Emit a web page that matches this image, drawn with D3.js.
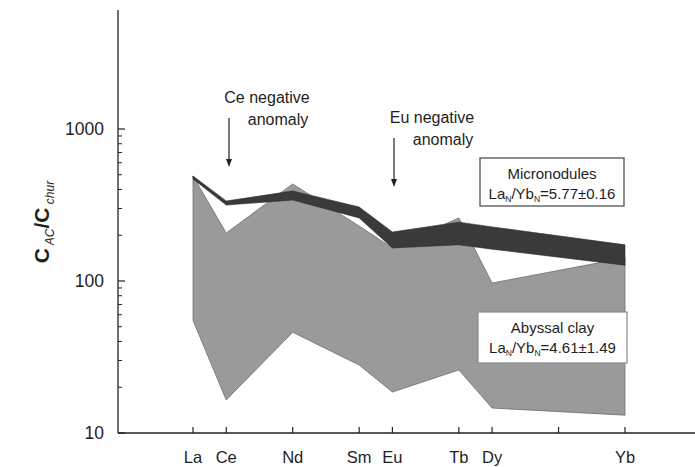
<!DOCTYPE html>
<html><head><meta charset="utf-8">
<script src="https://cdn.jsdelivr.net/npm/d3@7"></script>
<style>
html,body{margin:0;padding:0;background:#fff;}
text{font-family:"Liberation Sans",Arial,sans-serif;fill:#1e1e1e;}
</style></head>
<body><svg id="c" width="695" height="467"></svg>
<script>
// ---- data ----
const elements = ["La","Ce","Nd","Sm","Eu","Tb","Dy","Yb"];
const atomicNumber = [57,58,60,62,63,65,66,70];
const clayUpper = [491,207,435,230,165,260,97,142];
const clayLower = [55,16.5,46,28,18.6,26,14.6,13.1];
const noduleUpper = [491,336,391,307,210,244,227,173];
const noduleLower = [469,316,341,260,165,173,162,127];
const xTickAtomic = [57,58,60,62,63,65,66,68,70];
const xTickLabels = ["La","Ce","Nd","Sm","Eu","Tb","Dy","","Yb"];
const yTickValues = [10,100,1000];
const yTickLabels = ["10","100","1000"];

const svg = d3.select("#c");
const x = d3.scaleLinear().domain([57,70]).range([193,625]);
const y = d3.scaleLog().domain([10,6068]).range([433,10]);

const clay = elements.map((e,i)=>({n:atomicNumber[i],lo:clayLower[i],hi:clayUpper[i]}));
const nod = elements.map((e,i)=>({n:atomicNumber[i],lo:noduleLower[i],hi:noduleUpper[i]}));
const area = d3.area().x(d=>x(d.n)).y0(d=>y(d.lo)).y1(d=>y(d.hi));

svg.append("path").attr("d",area(clay)).attr("fill","#9a9a9a").attr("stroke","#6f6f6f").attr("stroke-width",0.8);
svg.append("path").attr("d",area(nod)).attr("fill","#3a3a3a").attr("stroke","#2a2a2a").attr("stroke-width",0.6);

// y axis
const ax = 118;
svg.append("line").attr("x1",ax).attr("x2",ax).attr("y1",10).attr("y2",433).attr("stroke","#222").attr("stroke-width",1.3);
const minor = [];
[10,100].forEach(b=>{for(let k=2;k<=9;k++) minor.push(b*k);});
svg.selectAll(".mn").data(minor).enter().append("line")
  .attr("x1",ax).attr("x2",ax+4).attr("y1",d=>y(d)).attr("y2",d=>y(d)).attr("stroke","#222").attr("stroke-width",1);
svg.selectAll(".mj").data(yTickValues).enter().append("line")
  .attr("x1",ax).attr("x2",ax+7).attr("y1",d=>y(d)).attr("y2",d=>y(d)).attr("stroke","#222").attr("stroke-width",1.2);
svg.selectAll(".yl").data(yTickValues).enter().append("text")
  .attr("x",104).attr("y",d=>y(d)+6).attr("text-anchor","end").attr("font-size",17.5)
  .text((d,i)=>yTickLabels[i]);

// x axis
svg.append("line").attr("x1",ax).attr("x2",695).attr("y1",433).attr("y2",433).attr("stroke","#222").attr("stroke-width",1.3);
svg.selectAll(".xt").data(xTickAtomic).enter().append("line")
  .attr("x1",d=>x(d)).attr("x2",d=>x(d)).attr("y1",433).attr("y2",427).attr("stroke","#222").attr("stroke-width",1.2);
svg.selectAll(".xl").data(xTickAtomic).enter().append("text")
  .attr("x",d=>x(d)).attr("y",463).attr("text-anchor","middle").attr("font-size",16.5)
  .text((d,i)=>xTickLabels[i]);

// y title
const yt = svg.append("text").attr("transform","translate(49,222) rotate(-90)").attr("text-anchor","middle").attr("font-size",21).attr("font-weight","bold");
yt.append("tspan").text("C");
yt.append("tspan").attr("font-size",12).attr("font-weight","normal").attr("font-style","italic").attr("dy",5).text(" AC");
yt.append("tspan").attr("dy",-5).text("/C");
yt.append("tspan").attr("font-size",12).attr("font-weight","normal").attr("font-style","italic").attr("dy",5).text(" chur");

// annotations
function arrow(x0,y0,y1){
  svg.append("line").attr("x1",x0).attr("x2",x0).attr("y1",y0).attr("y2",y1-6).attr("stroke","#222").attr("stroke-width",1.2);
  svg.append("path").attr("d",`M${x0-3},${y1-8}L${x0+3},${y1-8}L${x0},${y1}Z`).attr("fill","#222");
}
svg.append("text").attr("x",267).attr("y",103).attr("text-anchor","middle").attr("font-size",16).text("Ce negative");
svg.append("text").attr("x",278).attr("y",125).attr("text-anchor","middle").attr("font-size",16).text("anomaly");
arrow(229,118,167);
svg.append("text").attr("x",432).attr("y",123).attr("text-anchor","middle").attr("font-size",16).text("Eu negative");
svg.append("text").attr("x",443).attr("y",145).attr("text-anchor","middle").attr("font-size",16).text("anomaly");
arrow(394,138,187);

// legend boxes
function box(x0,y0,w,h,stroke,l1,val){
  svg.append("rect").attr("x",x0).attr("y",y0).attr("width",w).attr("height",h).attr("fill","#fff").attr("stroke",stroke).attr("stroke-width",1.2);
  const cx = x0+w/2;
  svg.append("text").attr("x",cx).attr("y",y0+21).attr("text-anchor","middle").attr("font-size",15).text(l1);
  const t = svg.append("text").attr("x",cx).attr("y",y0+41).attr("text-anchor","middle").attr("font-size",15);
  t.append("tspan").text("La");
  t.append("tspan").attr("font-size",8.5).attr("dy",3).text("N");
  t.append("tspan").attr("dy",-3).text("/Yb");
  t.append("tspan").attr("font-size",8.5).attr("dy",3).text("N");
  t.append("tspan").attr("dy",-3).text("="+val);
}
box(480,158,144,48,"#444","Micronodules","5.77±0.16");
box(478,312,149,51,"#888","Abyssal clay","4.61±1.49");
</script></body></html>
